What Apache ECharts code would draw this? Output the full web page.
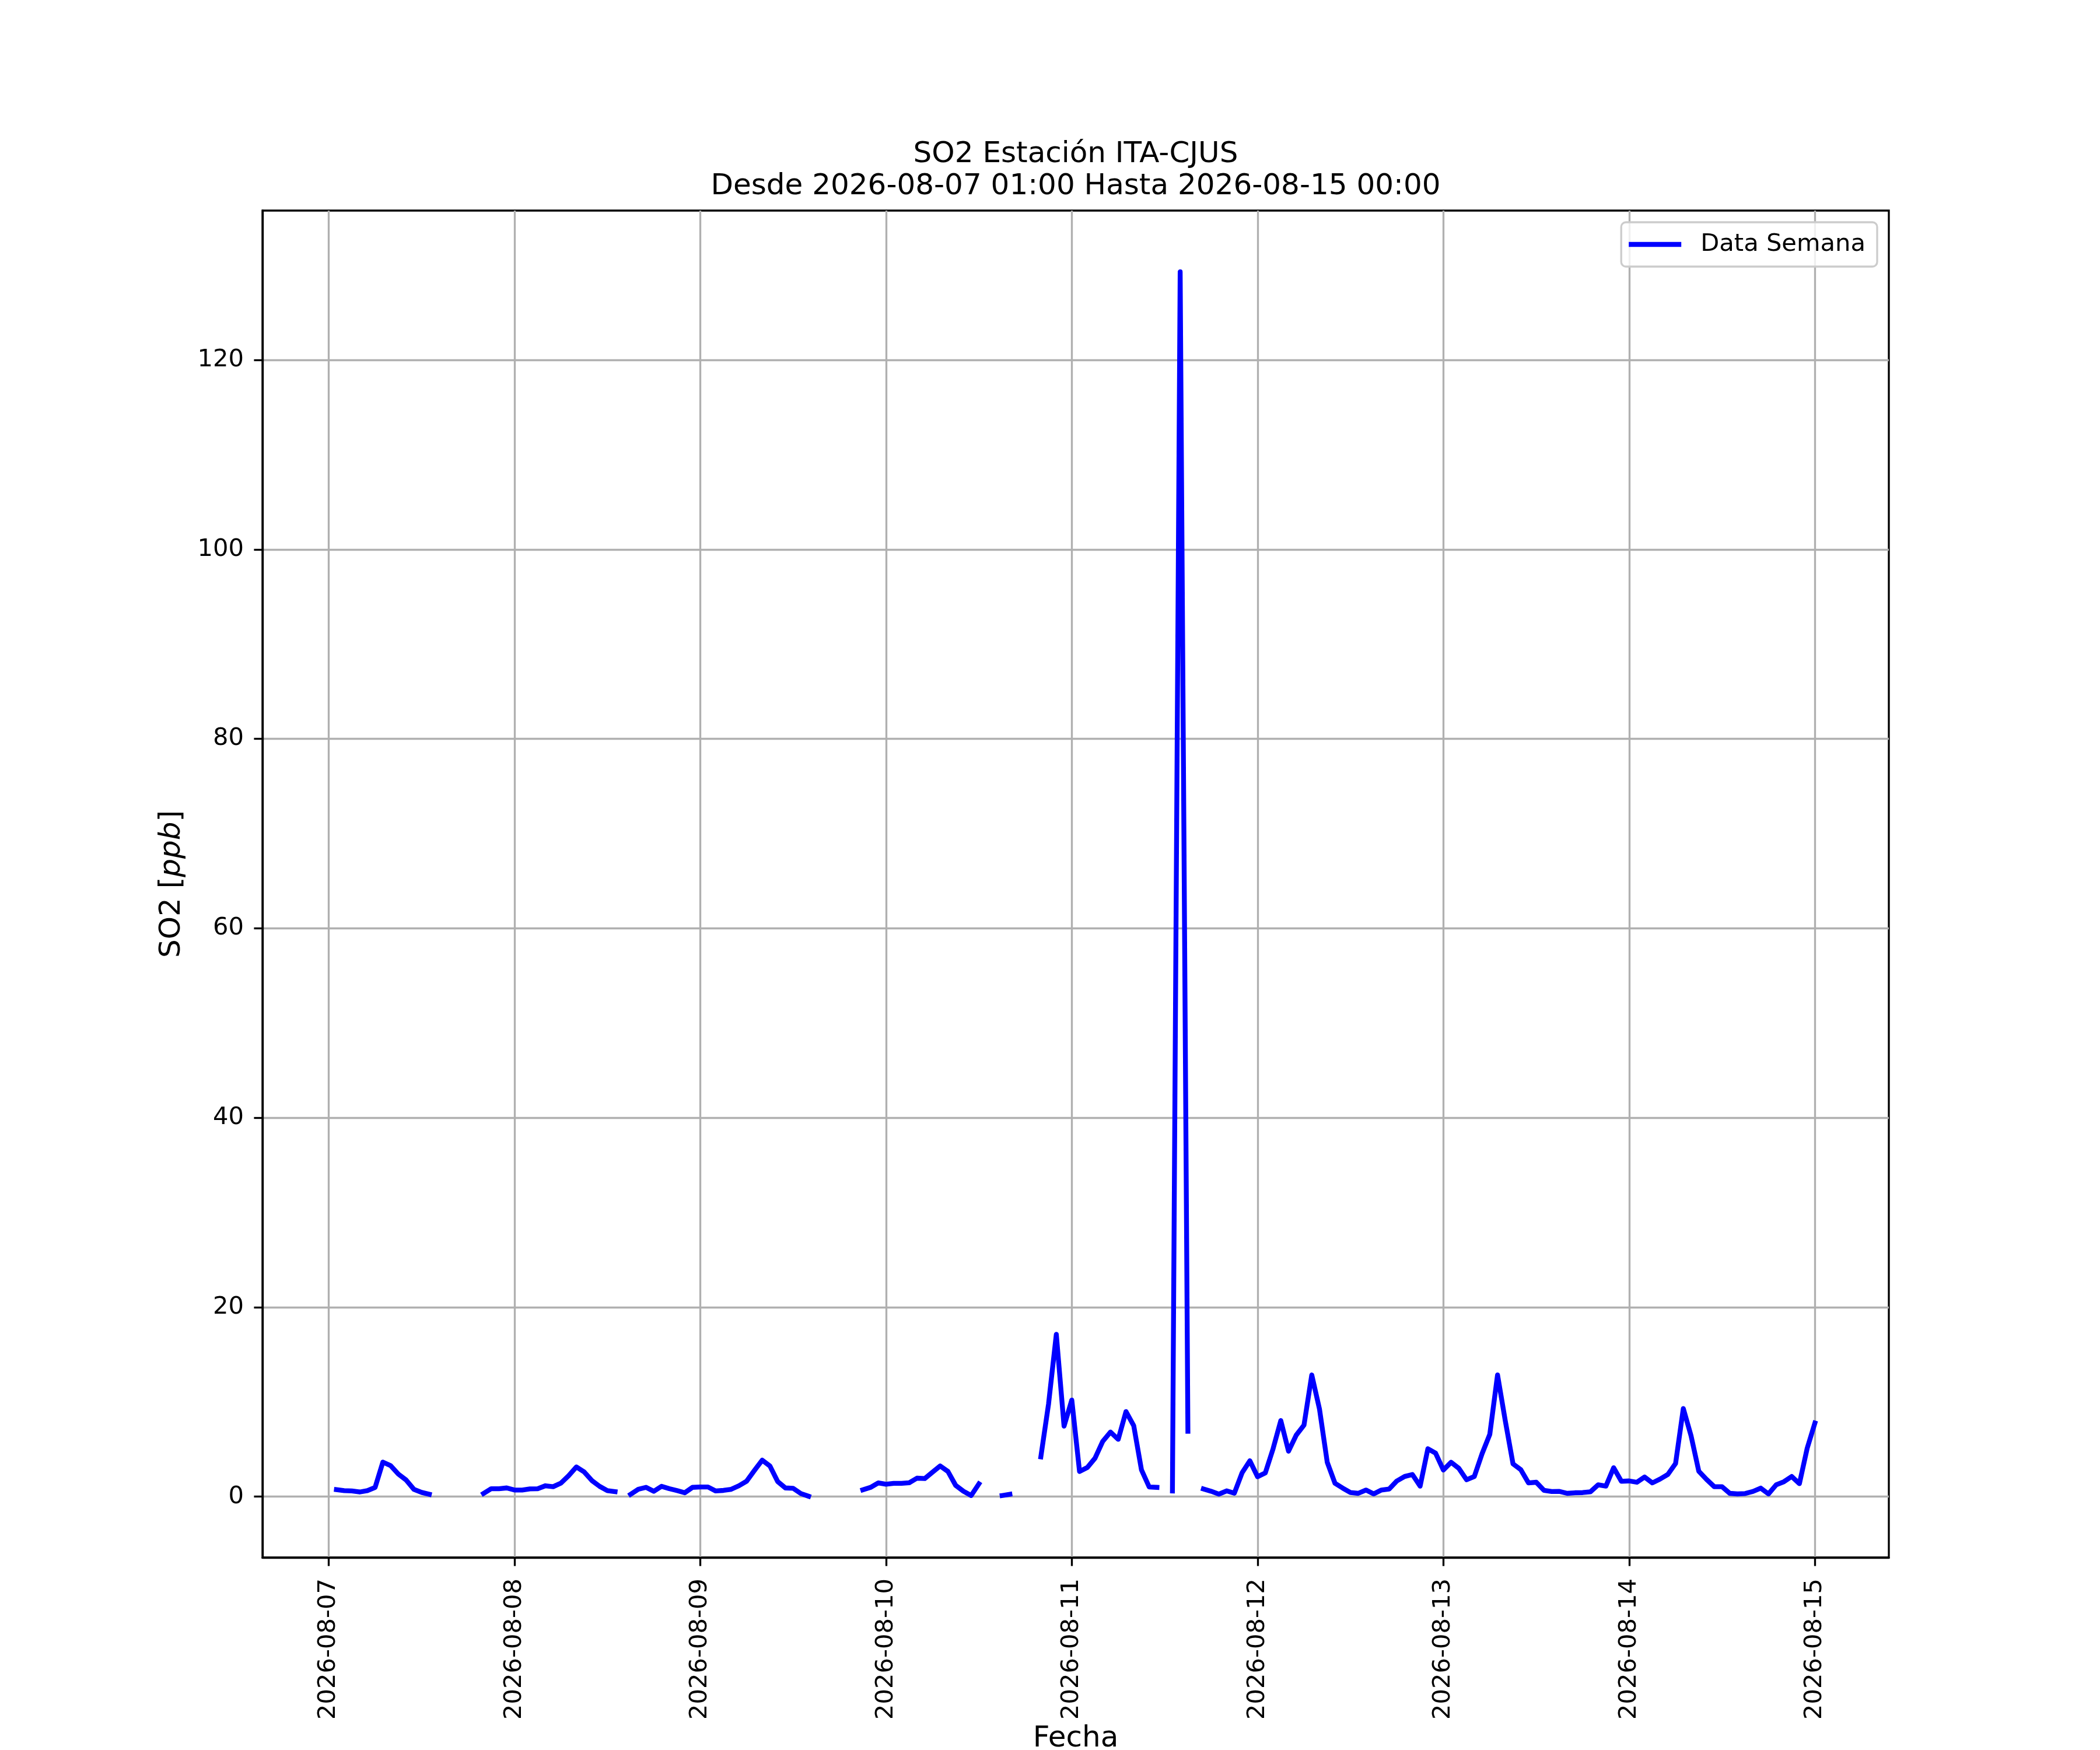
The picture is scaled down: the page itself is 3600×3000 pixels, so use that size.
<!DOCTYPE html>
<html>
<head>
<meta charset="utf-8">
<script src="https://cdn.jsdelivr.net/npm/echarts@6/dist/echarts.min.js"></script>
<style>
  html, body { margin: 0; padding: 0; background: #ffffff; }
  #chart { width: 3600px; height: 3000px; }
</style>
</head>
<body>
<div id="chart"></div>
<script>
// ---- data ----
const titleLines = ['SO2 Estación ITA-CJUS', 'Desde 2026-08-07 01:00 Hasta 2026-08-15 00:00'];
const seriesName = 'Data Semana';
const xAxisName = 'Fecha';
const firstHourUTC = '2026-08-07T01:00:00Z';   // hourly series start
// hourly SO2 values (ppb), 2026-08-07 01:00 .. 2026-08-15 00:00; null = missing
const so2 = [
  0.74, 0.64, 0.60, 0.49, 0.64, 0.98, 3.65, 3.28, 2.38, 1.76, 0.78, 0.45, 0.25,
  null, null, null, null, null, null,
  0.33, 0.84, 0.84, 0.92, 0.70, 0.70, 0.82, 0.84, 1.15, 1.05, 1.43, 2.21, 3.14, 2.62, 1.70, 1.09, 0.64, 0.53,
  null,
  0.25, 0.78, 0.98, 0.57, 1.09, 0.84, 0.64, 0.41, 0.98, 1.02, 1.02, 0.60, 0.66, 0.78, 1.15, 1.64, 2.77, 3.85, 3.24, 1.60, 0.92, 0.88, 0.33, 0.04,
  null, null, null, null, null, null,
  0.72, 0.98, 1.45, 1.31, 1.41, 1.41, 1.47, 1.95, 1.91, 2.58, 3.24, 2.66, 1.19, 0.57, 0.12, 1.35,
  null, null,
  0.12, 0.25,
  null, null, null,
  4.2, 9.8, 17.13, 7.44, 10.2, 2.66, 3.07, 4.06, 5.84, 6.82, 6.05, 8.98, 7.5, 2.83, 1.02, 0.98,
  null,
  0.6, 129.3, 6.9,
  null,
  0.82, 0.57, 0.27, 0.61, 0.37, 2.52, 3.79, 2.1, 2.5, 5.05, 8.03, 4.8, 6.5, 7.56, 12.85, 9.24, 3.63,
  1.41, 0.9, 0.43, 0.35, 0.70, 0.29, 0.70, 0.80, 1.66, 2.13, 2.34, 1.11, 5.06, 4.59, 2.81, 3.63,
  2.99, 1.78, 2.13, 4.53, 6.58, 12.85, 8.01, 3.46, 2.85, 1.45, 1.52, 0.67, 0.54, 0.55, 0.35, 0.41,
  0.43, 0.51, 1.25, 1.11, 3.05, 1.62, 1.66, 1.52, 2.07, 1.45, 1.86, 2.34, 3.50, 9.3, 6.43, 2.68,
  1.82, 1.05, 1.05, 0.35, 0.29, 0.33, 0.55, 0.90, 0.29, 1.25, 1.58, 2.13, 1.37, 5.1, 7.77
];
const xTickLabels = ['2026-08-07', '2026-08-08', '2026-08-09', '2026-08-10', '2026-08-11',
                     '2026-08-12', '2026-08-13', '2026-08-14', '2026-08-15'];
const yTickValues = [0, 20, 40, 60, 80, 100, 120];

// ---- build ----
const HOUR = 3600 * 1000;
const t0 = Date.parse(firstHourUTC);
const seriesData = so2.map((v, i) => [t0 + i * HOUR, v === null ? '-' : v]);
const tFirst = t0, tLast = t0 + (so2.length - 1) * HOUR;
const xPad = 0.05 * (tLast - tFirst);
const vals = so2.filter(v => v !== null);
const vMin = Math.min(...vals), vMax = Math.max(...vals);
const yPad = 0.05 * (vMax - vMin);
const xTickValues = xTickLabels.map(d => Date.parse(d + 'T00:00:00Z'));

const FONT = 'DejaVu Sans';
const LW = 300 / 72;          // 1pt at 300 dpi
const chart = echarts.init(document.getElementById('chart'), null, { renderer: 'canvas' });
chart.setOption({
  animation: false,
  backgroundColor: '#ffffff',
  textStyle: { fontFamily: FONT, color: '#000000' },
  title: {
    text: titleLines.join('\n'),
    left: 1844, top: 238, padding: 0,
    textAlign: 'center',
    textStyle: { fontFamily: FONT, fontSize: 50, lineHeight: 55, fontWeight: 'normal', color: '#000000' }
  },
  legend: {
    right: 382, top: 381,
    orient: 'vertical',
    padding: [14, 20, 14, 13],
    backgroundColor: 'rgba(255,255,255,0.8)',
    borderColor: '#cccccc', borderWidth: 0.8 * LW, borderRadius: 8,
    icon: 'rect', itemWidth: 90, itemHeight: 2 * LW,
    textStyle: { fontFamily: FONT, fontSize: 41.67, lineHeight: 48, color: '#000000', padding: [0, 0, 0, 28] },
    data: [seriesName]
  },
  grid: {
    left: 450, right: 362, top: 361, bottom: 330,
    containLabel: false, outerBoundsMode: 'none',
    show: true, borderColor: '#000000', borderWidth: 0.8 * LW, backgroundColor: 'transparent'
  },
  xAxis: {
    type: 'value',
    min: tFirst - xPad, max: tLast + xPad,
    name: xAxisName, nameLocation: 'middle', nameGap: 286,
    nameTextStyle: { fontFamily: FONT, fontSize: 50, color: '#000000' },
    axisLine: { show: true, onZero: false, lineStyle: { color: '#000000', width: 0.8 * LW } },
    axisTick: { show: true, inside: false, length: 3.5 * LW, lineStyle: { color: '#000000', width: 0.8 * LW },
                customValues: xTickValues },
    axisLabel: {
      customValues: xTickValues,
      rotate: 90, margin: 36,
      fontFamily: FONT, fontSize: 41.67, color: '#000000',
      formatter: (v) => xTickLabels[xTickValues.indexOf(v)] || new Date(v).toISOString().slice(0, 10)
    },
    splitLine: { show: true, lineStyle: { color: '#b0b0b0', width: 0.8 * LW } }
  },
  yAxis: {
    type: 'value',
    min: vMin - yPad, max: vMax + yPad,
    name: '{n|SO2 [}{i|ppb}{n|]}', nameLocation: 'middle', nameGap: 130, nameRotate: 90,
    nameTextStyle: {
      rich: {
        n: { fontFamily: FONT, fontSize: 50, color: '#000000' },
        i: { fontFamily: FONT, fontSize: 50, fontStyle: 'italic', color: '#000000' }
      }
    },
    axisLine: { show: true, onZero: false, lineStyle: { color: '#000000', width: 0.8 * LW } },
    axisTick: { show: true, inside: false, length: 3.5 * LW, lineStyle: { color: '#000000', width: 0.8 * LW },
                customValues: yTickValues },
    axisLabel: {
      customValues: yTickValues,
      margin: 32,
      fontFamily: FONT, fontSize: 41.67, color: '#000000',
      formatter: (v) => String(Math.round(v))
    },
    splitLine: { show: true, lineStyle: { color: '#b0b0b0', width: 0.8 * LW } }
  },
  series: [{
    name: seriesName,
    type: 'line',
    data: seriesData,
    showSymbol: false, symbol: 'none',
    connectNulls: false,
    color: '#0000ff',
    lineStyle: { color: '#0000ff', width: 2 * LW, cap: 'square', join: 'round' },
    z: 3
  }]
});
</script>
</body>
</html>
